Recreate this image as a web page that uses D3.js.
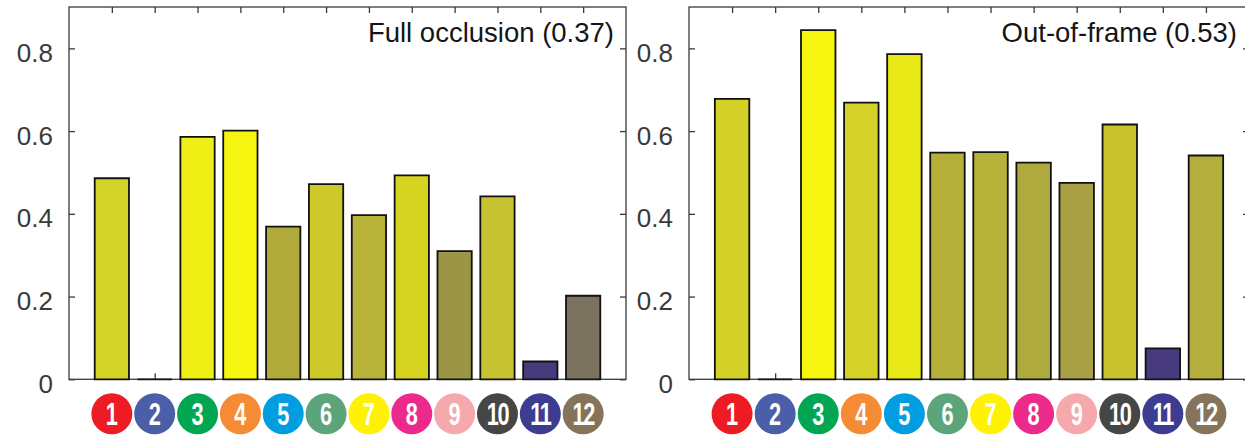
<!DOCTYPE html>
<html>
<head>
<meta charset="utf-8">
<script src="https://cdn.jsdelivr.net/npm/d3@7"></script>
<style>
  html, body { margin: 0; padding: 0; background: #fff; }
  svg { display: block; }
</style>
</head>
<body>
<svg id="chart" width="1245" height="436"></svg>
<script>
// ---------- data ----------
const categories = ["1","2","3","4","5","6","7","8","9","10","11","12"];
const categoryColors = ["#ed1c24","#4b5ea8","#00a651","#f58b34","#009ee0","#5ca57a",
                        "#fff200","#ec2a8c","#f5a9ad","#464646","#3c3c91","#85735a"];

const fullOcclusionTitle = "Full occlusion (0.37)";
const fullOcclusion = [0.486, 0, 0.586, 0.601, 0.369, 0.472, 0.397, 0.493, 0.310, 0.442, 0.043, 0.202];
const fullOcclusionColors = ["#d3d327","#d3d327","#efef15","#f6f611","#b1ab3b","#cdc92b",
                             "#b8b43a","#d6d421","#9b9646","#c6c231","#473b7d","#7b735f"];

const outOfFrameTitle = "Out-of-frame (0.53)";
const outOfFrame = [0.678, 0, 0.844, 0.669, 0.786, 0.548, 0.549, 0.524, 0.475, 0.616, 0.075, 0.541];
const outOfFrameColors = ["#d3d128","#d3d128","#f5f510","#d4d128","#e9e918","#b4b03a",
                          "#b6b23a","#afaa3e","#a9a046","#c8c22c","#473b7e","#b4ae3c"];

const yTicks = [0, 0.2, 0.4, 0.6, 0.8];
const yMax = 0.9;

// ---------- layout ----------
const svg = d3.select("#chart");
const plotTop = 7, plotBottom = 379.3;
const axisColor = "#3a3a3a";
const tickLen = 6;

function panel(x0, x1, values, colors, title) {
  const g = svg.append("g");
  const x = d3.scaleLinear().domain([0, 13]).range([x0, x1]);
  const y = d3.scaleLinear().domain([0, yMax]).range([plotBottom, plotTop]);
  const idx = categories.map((c, i) => i + 1);
  const bw = x(0.8) - x(0);

  // frame
  g.append("rect")
    .attr("x", x0).attr("y", plotTop)
    .attr("width", x1 - x0).attr("height", plotBottom - plotTop)
    .attr("fill", "none").attr("stroke", axisColor).attr("stroke-width", 1.3);

  // left axis with labels (ticks pointing inward)
  const left = g.append("g").attr("transform", `translate(${x0},0)`)
    .call(d3.axisLeft(y).tickValues(yTicks).tickSizeInner(-tickLen).tickSizeOuter(0)
      .tickPadding(16).tickFormat(d => String(d)));
  left.select(".domain").remove();
  left.selectAll("line").attr("stroke", axisColor).attr("stroke-width", 1.3);
  left.selectAll("text")
    .attr("font-family", "'Liberation Sans', Arial, Helvetica, sans-serif")
    .attr("font-size", 26).attr("fill", "#3a3a3a")
    .attr("dy", "0.5em");

  // right axis ticks (no labels)
  const right = g.append("g").attr("transform", `translate(${x1},0)`)
    .call(d3.axisRight(y).tickValues(yTicks).tickSizeInner(-tickLen).tickSizeOuter(0).tickFormat(""));
  right.select(".domain").remove();
  right.selectAll("line").attr("stroke", axisColor).attr("stroke-width", 1.3);

  // top & bottom ticks at bar centres
  const topAx = g.append("g").attr("transform", `translate(0,${plotTop})`)
    .call(d3.axisTop(x).tickValues(idx).tickSizeInner(-tickLen).tickSizeOuter(0).tickFormat(""));
  topAx.select(".domain").remove();
  topAx.selectAll("line").attr("stroke", axisColor).attr("stroke-width", 1.3);

  const botAx = g.append("g").attr("transform", `translate(0,${plotBottom})`)
    .call(d3.axisBottom(x).tickValues(idx).tickSizeInner(-tickLen).tickSizeOuter(0).tickFormat(""));
  botAx.select(".domain").remove();
  botAx.selectAll("line").attr("stroke", axisColor).attr("stroke-width", 1.3);

  // bars (paths, so zero-height bars still show their outline)
  g.selectAll("path.bar").data(values).join("path")
    .attr("class", "bar")
    .attr("d", (d, i) => {
      const xa = x(i + 1) - bw / 2, xb = x(i + 1) + bw / 2;
      return `M${xa},${y(0)}V${y(d)}H${xb}V${y(0)}Z`;
    })
    .attr("fill", (d, i) => colors[i])
    .attr("stroke", "#111").attr("stroke-width", 1.8)
    .attr("stroke-linejoin", "miter");

  // title
  g.append("text")
    .attr("x", x(12.72)).attr("y", 42)
    .attr("text-anchor", "end")
    .attr("font-family", "'Liberation Sans', Arial, Helvetica, sans-serif")
    .attr("font-size", 27.5).attr("fill", "#151515")
    .text(title);

  // numbered category badges
  const badges = g.selectAll("g.badge").data(categories).join("g")
    .attr("class", "badge")
    .attr("transform", (d, i) => `translate(${x(i + 1)},413.8)`);
  badges.append("circle").attr("r", 20.5).attr("fill", (d, i) => categoryColors[i]);
  badges.append("text")
    .attr("transform", "scale(0.68,1)")
    .attr("y", 11.5)
    .attr("text-anchor", "middle")
    .attr("font-family", "'Liberation Sans Narrow', 'Liberation Sans', Arial, sans-serif")
    .attr("font-weight", "bold")
    .attr("font-size", 32)
    .attr("letter-spacing", d => d.length > 1 ? -2 : 0)
    .attr("fill", "#fff")
    .text(d => d);
}

panel(69, 626, fullOcclusion, fullOcclusionColors, fullOcclusionTitle);
panel(689, 1249, outOfFrame, outOfFrameColors, outOfFrameTitle);
</script>
</body>
</html>
